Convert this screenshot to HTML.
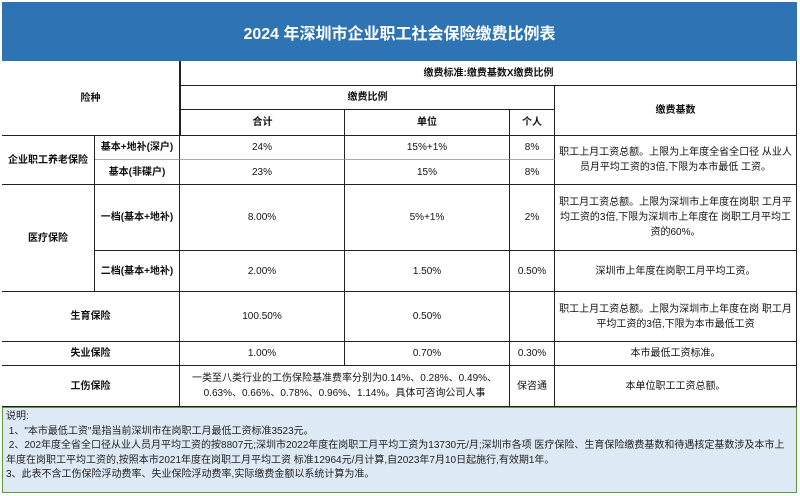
<!DOCTYPE html>
<html><head><meta charset="utf-8">
<style>
body{margin:0;width:800px;height:496px;background:#fff;position:relative;overflow:hidden;font-family:"Liberation Sans","Noto Sans CJK SC",sans-serif;color:#111}
.t{position:absolute;left:2px;top:2px;width:795px;height:59px;background:#2e74b5;color:#fff;font-size:16px;font-weight:bold;display:flex;align-items:center;justify-content:center}
.c{position:absolute;box-sizing:border-box;display:flex;align-items:center;justify-content:center;text-align:center;font-size:10px;border-right:1px solid #222;border-bottom:1px solid #222;line-height:15px}
.b{font-weight:bold}
.g{border-bottom-color:#aaa}
.note{position:absolute;left:2px;top:407px;width:795px;height:86px;box-sizing:border-box;background:#dde9f5;border:1px solid #5a9a3a;font-size:10px;line-height:14.5px;padding:2px 3px;color:#222}
</style></head><body>
<div class="t">2024 年深圳市企业职工社会保险缴费比例表</div>

<div class="c b" style="left:2px;top:61px;width:178px;height:75px">险种</div>
<div class="c b" style="left:180px;top:61px;width:617px;height:25px;border-left:1px solid #222">缴费标准:缴费基数X缴费比例</div>
<div class="c b" style="left:180px;top:86px;width:375px;height:24px;border-left:1px solid #222">缴费比例</div>
<div class="c b" style="left:555px;top:86px;width:242px;height:50px">缴费基数</div>
<div class="c b" style="left:180px;top:110px;width:165px;height:26px;border-left:1px solid #222">合计</div>
<div class="c b" style="left:345px;top:110px;width:165px;height:26px">单位</div>
<div class="c b" style="left:510px;top:110px;width:45px;height:26px">个人</div>

<div class="c b" style="left:2px;top:136px;width:93px;height:49px">企业职工养老保险</div>
<div class="c b g" style="left:95px;top:136px;width:85px;height:24px">基本+地补(深户)</div>
<div class="c g" style="left:180px;top:136px;width:165px;height:24px">24%</div>
<div class="c g" style="left:345px;top:136px;width:165px;height:24px">15%+1%</div>
<div class="c g" style="left:510px;top:136px;width:45px;height:24px">8%</div>
<div class="c b" style="left:95px;top:160px;width:85px;height:25px">基本(非碟户)</div>
<div class="c" style="left:180px;top:160px;width:165px;height:25px">23%</div>
<div class="c" style="left:345px;top:160px;width:165px;height:25px">15%</div>
<div class="c" style="left:510px;top:160px;width:45px;height:25px">8%</div>
<div class="c" style="left:555px;top:136px;width:242px;height:49px;padding:0 4px">职工上月工资总额。上限为上年度全省全口径 从业人员月平均工资的3倍,下限为本市最低 工资。</div>

<div class="c b" style="left:2px;top:185px;width:93px;height:107px">医疗保险</div>
<div class="c b" style="left:95px;top:185px;width:85px;height:66px">一档(基本+地补)</div>
<div class="c" style="left:180px;top:185px;width:165px;height:66px">8.00%</div>
<div class="c" style="left:345px;top:185px;width:165px;height:66px">5%+1%</div>
<div class="c" style="left:510px;top:185px;width:45px;height:66px">2%</div>
<div class="c" style="left:555px;top:185px;width:242px;height:66px;padding:0 4px">职工月工资总额。上限为深圳市上年度在岗职 工月平均工资的3倍,下限为深圳市上年度在 岗职工月平均工资的60%。</div>
<div class="c b" style="left:95px;top:251px;width:85px;height:41px">二档(基本+地补)</div>
<div class="c" style="left:180px;top:251px;width:165px;height:41px">2.00%</div>
<div class="c" style="left:345px;top:251px;width:165px;height:41px">1.50%</div>
<div class="c" style="left:510px;top:251px;width:45px;height:41px">0.50%</div>
<div class="c" style="left:555px;top:251px;width:242px;height:41px">深圳市上年度在岗职工月平均工资。</div>

<div class="c b" style="left:2px;top:292px;width:178px;height:50px">生育保险</div>
<div class="c" style="left:180px;top:292px;width:165px;height:50px">100.50%</div>
<div class="c" style="left:345px;top:292px;width:165px;height:50px">0.50%</div>
<div class="c" style="left:510px;top:292px;width:45px;height:50px"></div>
<div class="c" style="left:555px;top:292px;width:242px;height:50px;padding:0 4px">职工上月工资总额。上限为深圳市上年度在岗 职工月平均工资的3倍,下限为本市最低工资</div>

<div class="c b" style="left:2px;top:342px;width:178px;height:24px">失业保险</div>
<div class="c" style="left:180px;top:342px;width:165px;height:24px">1.00%</div>
<div class="c" style="left:345px;top:342px;width:165px;height:24px">0.70%</div>
<div class="c" style="left:510px;top:342px;width:45px;height:24px">0.30%</div>
<div class="c" style="left:555px;top:342px;width:242px;height:24px">本市最低工资标准。</div>

<div class="c b" style="left:2px;top:366px;width:178px;height:41px">工伤保险</div>
<div class="c" style="left:180px;top:366px;width:330px;height:41px;padding:0 6px">一类至八类行业的工伤保险基准费率分别为0.14%、0.28%、0.49%、0.63%、0.66%、0.78%、0.96%、1.14%。具体可咨询公司人事</div>
<div class="c" style="left:510px;top:366px;width:45px;height:41px">保咨通</div>
<div class="c" style="left:555px;top:366px;width:242px;height:41px">本单位职工工资总额。</div>

<div class="note">说明:<br>&nbsp;1、"本市最低工资"是指当前深圳市在岗职工月最低工资标准3523元。<br>&nbsp;2、202年度全省全口径从业人员月平均工资的按8807元;深圳市2022年度在岗职工月平均工资为13730元/月;深圳市各项 医疗保险、生育保险缴费基数和待遇核定基数涉及本市上年度在岗职工平均工资的,按照本市2021年度在岗职工月平均工资 标准12964元/月计算,自2023年7月10日起施行,有效期1年。<br>3、此表不含工伤保险浮动费率、失业保险浮动费率,实际缴费金额以系统计算为准。</div>
</body></html>
